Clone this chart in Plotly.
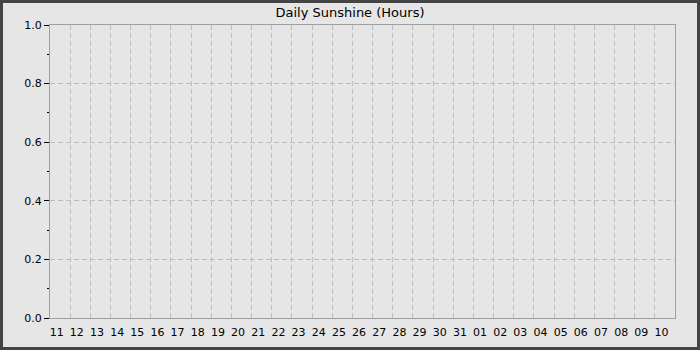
import plotly.graph_objects as go

days = ["11", "12", "13", "14", "15", "16", "17", "18", "19", "20", "21", "22", "23", "24",
        "25", "26", "27", "28", "29", "30", "31", "01", "02", "03", "04", "05", "06", "07",
        "08", "09", "10"]
sunshine_hours = [None] * len(days)
y_ticks = [0.0, 0.2, 0.4, 0.6, 0.8, 1.0]
y_tick_labels = ["0.0", "0.2", "0.4", "0.6", "0.8", "1.0"]

W, H = 700, 350
L, R, T, B = 50, 25, 25, 32
pw = W - L - R
ph = H - T - B
GRID = "#bdbdbd"
DASH = "5px,3px"

positions = list(range(len(days)))
fig = go.Figure()
fig.add_trace(go.Bar(x=[p + 0.5 for p in positions], y=sunshine_hours,
                     marker_color="#f0c000", showlegend=False))

fig.update_layout(
    width=W, height=H,
    margin=dict(l=L, r=R, t=T, b=B),
    paper_bgcolor="#e6e6e6", plot_bgcolor="#e6e6e6",
    font=dict(family="DejaVu Sans", size=11, color="#000000"),
    title=dict(text="Daily Sunshine (Hours)", x=0.5, xanchor="center",
               y=1 - 12 / H, yanchor="middle", font=dict(size=13)),
    xaxis=dict(range=[0, len(days)], tickmode="array",
               tickvals=[p + 0.33 for p in positions], ticktext=days,
               showgrid=False, ticks="outside", ticklen=4, tickcolor="rgba(0,0,0,0)",
               zeroline=False,
               showline=True, linecolor="#a0a0a0", linewidth=1, mirror=True,
               minor=dict(tickmode="linear", tick0=0, dtick=1, showgrid=True,
                          gridcolor=GRID, griddash=DASH, gridwidth=1, ticks=""),
               fixedrange=True),
    yaxis=dict(range=[0, 1], tickmode="array", tickvals=y_ticks, ticktext=y_tick_labels,
               showgrid=True, gridcolor=GRID, griddash=DASH, gridwidth=1,
               ticks="outside", ticklen=5, tickcolor="#000000", tickwidth=1,
               zeroline=False, showline=True, linecolor="#a0a0a0", linewidth=1, mirror=True,
               minor=dict(tickmode="linear", tick0=0.1, dtick=0.2, ticks="outside",
                          ticklen=2, tickcolor="#000000", showgrid=False),
               fixedrange=True),
)

fig.add_shape(type="rect", xref="paper", yref="paper",
              x0=(1.5 - L) / pw, x1=(W - 1.5 - L) / pw,
              y0=-(B - 1.5) / ph, y1=1 + (T - 1.5) / ph,
              line=dict(color="#444444", width=3), fillcolor="rgba(0,0,0,0)", layer="above")

fig.write_html("out.html", config={"displayModeBar": False})
